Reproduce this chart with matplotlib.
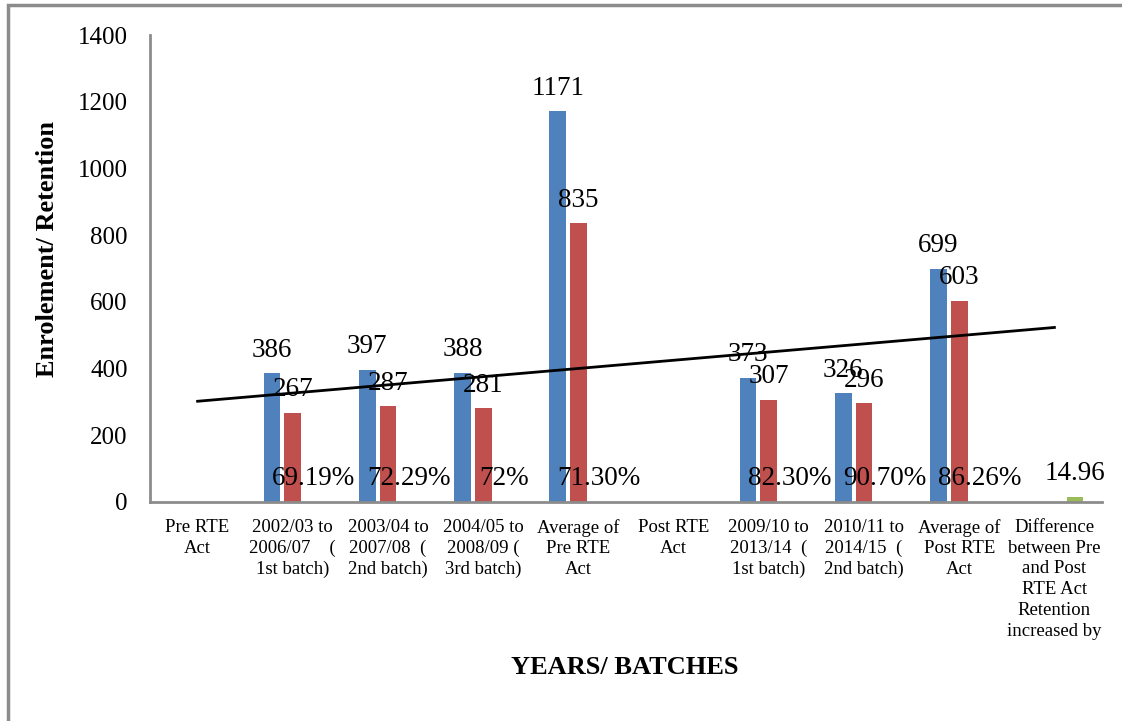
import numpy as np
import matplotlib
matplotlib.use("Agg")
import matplotlib.pyplot as plt
from matplotlib.patches import Rectangle

plt.rcParams['font.family'] = ['Liberation Serif', 'DejaVu Serif']

# categories (years / batches)
categories = [
    "Pre RTE\nAct",
    "2002/03 to\n2006/07    (\n1st batch)",
    "2003/04 to\n2007/08  (\n2nd batch)",
    "2004/05 to\n2008/09 (\n3rd batch)",
    "Average of\nPre RTE\nAct",
    "Post RTE\nAct",
    "2009/10 to\n2013/14  (\n1st batch)",
    "2010/11 to\n2014/15  (\n2nd batch)",
    "Average of\nPost RTE\nAct",
    "Difference\nbetween Pre\nand Post\nRTE Act\nRetention\nincreased by",
]

# enrolment, retention and retention rate (None = empty cell)
enrolment = [None, 386, 397, 388, 1171, None, 373, 326, 699, None]
retention = [None, 267, 287, 281, 835, None, 307, 296, 603, None]
retention_rate = [None, 0.6919, 0.7229, 0.72, 0.7130, None, 0.8230, 0.9070, 0.8626, 14.96]
rate_labels = [None, "69.19%", "72.29%", "72%", "71.30%", None, "82.30%", "90.70%", "86.26%", "14.96"]

blue = '#4F81BD'
red = '#C0504D'
green = '#9BBB59'

fig = plt.figure(figsize=(11.22, 7.21), dpi=100)
ax = fig.add_axes([150 / 1122, 1 - 502 / 721, 952 / 1122, 467 / 721])

x = np.arange(1, len(categories) + 1)
w = 0.175
off = 0.217


def draw_series(vals, dx, color, labels=None):
    for i, v in enumerate(vals):
        if v is None:
            continue
        ax.bar(x[i] + dx, v, width=w, color=color, linewidth=0)
        txt = labels[i] if labels else str(v)
        ax.annotate(txt, (x[i] + dx, v), xytext=(0, 12), textcoords='offset points',
                    ha='center', va='baseline', fontsize=19.5, color='black')


draw_series(enrolment, -off, blue)
draw_series(retention, 0, red)
draw_series(retention_rate, off, green, rate_labels)

# linear trend line of retention
xs = np.array([x[i] for i, v in enumerate(retention) if v is not None])
ys = np.array([v for v in retention if v is not None])
k, b = np.polyfit(xs, ys, 1)
ax.plot([x[0], x[-1]], [k * x[0] + b, k * x[-1] + b], color='black', lw=2)

ax.set_xlim(0.5, len(categories) + 0.5)
ax.set_ylim(0, 1400)
ax.set_yticks(range(0, 1401, 200))
ax.set_xticks(x)
ax.set_xticklabels(categories, fontsize=13.5, linespacing=1.3, va='top')
ax.tick_params(axis='x', length=0, pad=12)
ax.tick_params(axis='y', length=0, pad=16, labelsize=18)

for s in ['top', 'right']:
    ax.spines[s].set_visible(False)
for s in ['left', 'bottom']:
    ax.spines[s].set_color('#8C8C8C')
    ax.spines[s].set_linewidth(2)

fig.text(48 / 1122, 1 - 249 / 721, "Enrolement/ Retention", rotation=90,
         ha='center', va='center', fontsize=19, fontweight='bold')
fig.text(625 / 1122, 1 - 667 / 721, "YEARS/ BATCHES",
         ha='center', va='center', fontsize=19, fontweight='bold')

# chart frame
fig.patches.append(Rectangle((8 / 1122, -0.1), 1.2, 1 - 5 / 721 + 0.1, transform=fig.transFigure,
                             fill=False, edgecolor='#8C8C8C', linewidth=2.5))

fig.savefig("out.png", dpi=100)
